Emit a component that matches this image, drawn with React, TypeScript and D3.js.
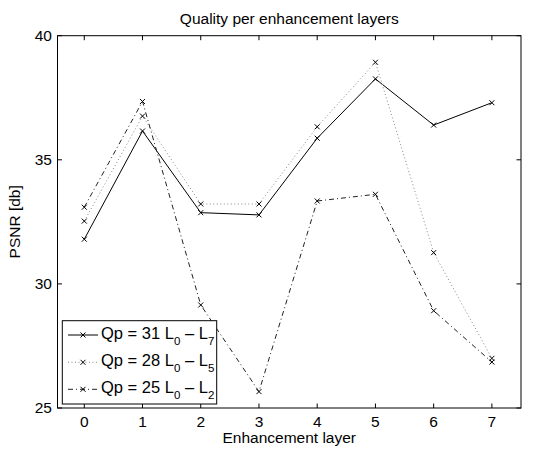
import React from "react";
import * as d3 from "d3";

const layers = [0, 1, 2, 3, 4, 5, 6, 7];
const qp31 = [31.8, 36.16, 32.87, 32.78, 35.87, 38.26, 36.4, 37.3];
const qp28 = [32.53, 36.76, 33.22, 33.22, 36.33, 38.93, 31.26, 27.0];
const qp25 = [33.09, 37.35, 29.15, 25.66, 33.34, 33.61, 28.92, 26.85];
const yTicks = [25, 30, 35, 40];
const seriesNames = [
  { qp: "31", a: "0", b: "7" },
  { qp: "28", a: "0", b: "5" },
  { qp: "25", a: "0", b: "2" },
];

const W = 542, H = 449;
const L = 57.5, R = 521, T = 35.7, B = 408;
const FONT = "'Liberation Sans', Arial, Helvetica, sans-serif";

export default function App() {
  const x = d3.scaleLinear().domain([-0.46, 7.5]).range([L, R]);
  const y = d3.scaleLinear().domain([25, 40]).range([B, T]);
  const line = d3.line<number>().x((_, i) => x(layers[i])).y((d) => y(d));
  const series = [
    { data: qp31, stroke: "#000", dash: undefined as string | undefined, w: 1 },
    { data: qp28, stroke: "#888", dash: "1,2.5", w: 1 },
    { data: qp25, stroke: "#222", dash: "5,3,1,3", w: 1 },
  ];
  const tk = 4.5;
  const m = 2.5;
  const marker = (cx: number, cy: number, k: string) => (
    <path key={k} d={`M${cx - m},${cy - m}L${cx + m},${cy + m}M${cx - m},${cy + m}L${cx + m},${cy - m}`} stroke="#000" strokeWidth={1} fill="none" />
  );
  const legRows = [335, 362.3, 389.3];
  return (
    <svg width={W} height={H} style={{ position: "absolute", left: 0, top: 0, background: "#fff" }} fontFamily={FONT}>
      <rect x={0} y={0} width={W} height={H} fill="#fff" />
      <text x={(L + R) / 2} y={24} textAnchor="middle" fontSize={15.5}>Quality per enhancement layers</text>
      {series.map((s, si) => (
        <g key={si}>
          <path d={line(s.data) || ""} fill="none" stroke={s.stroke} strokeWidth={s.w} strokeDasharray={s.dash} />
          {s.data.map((v, i) => marker(x(layers[i]), y(v), `${si}-${i}`))}
        </g>
      ))}
      <rect x={L} y={T} width={R - L} height={B - T} fill="none" stroke="#000" strokeWidth={1} />
      {layers.map((v) => (
        <g key={v}>
          <line x1={x(v)} x2={x(v)} y1={B} y2={B - tk} stroke="#000" />
          <line x1={x(v)} x2={x(v)} y1={T} y2={T + tk} stroke="#000" />
          <text x={x(v)} y={427} textAnchor="middle" fontSize={15.5}>{v}</text>
        </g>
      ))}
      {yTicks.map((v) => (
        <g key={v}>
          <line x1={L} x2={L + tk} y1={y(v)} y2={y(v)} stroke="#000" />
          <line x1={R} x2={R - tk} y1={y(v)} y2={y(v)} stroke="#000" />
          <text x={52} y={y(v) + 5.3} textAnchor="end" fontSize={15.5}>{v}</text>
        </g>
      ))}
      <text x={(L + R) / 2} y={443} textAnchor="middle" fontSize={15.5}>Enhancement layer</text>
      <text transform={`translate(20,${(T + B) / 2}) rotate(-90)`} textAnchor="middle" fontSize={15.5}>PSNR [db]</text>
      <rect x={62.3} y={320.7} width={154.4} height={83.3} fill="#fff" stroke="#000" strokeWidth={1} />
      {seriesNames.map((n, i) => {
        const s = series[i];
        const ry = legRows[i];
        return (
          <g key={i}>
            <line x1={68} x2={98} y1={ry} y2={ry} stroke={s.stroke} strokeWidth={s.w} strokeDasharray={s.dash} />
            {marker(83, ry, `leg${i}`)}
            <text x={101} y={ry + 4} fontSize={16.5}>
              {`Qp = ${n.qp} L`}
              <tspan fontSize={11.5} dy={6}>{n.a}</tspan>
              <tspan dy={-6}>{" \u2013 L"}</tspan>
              <tspan fontSize={11.5} dy={6}>{n.b}</tspan>
            </text>
          </g>
        );
      })}
    </svg>
  );
}
